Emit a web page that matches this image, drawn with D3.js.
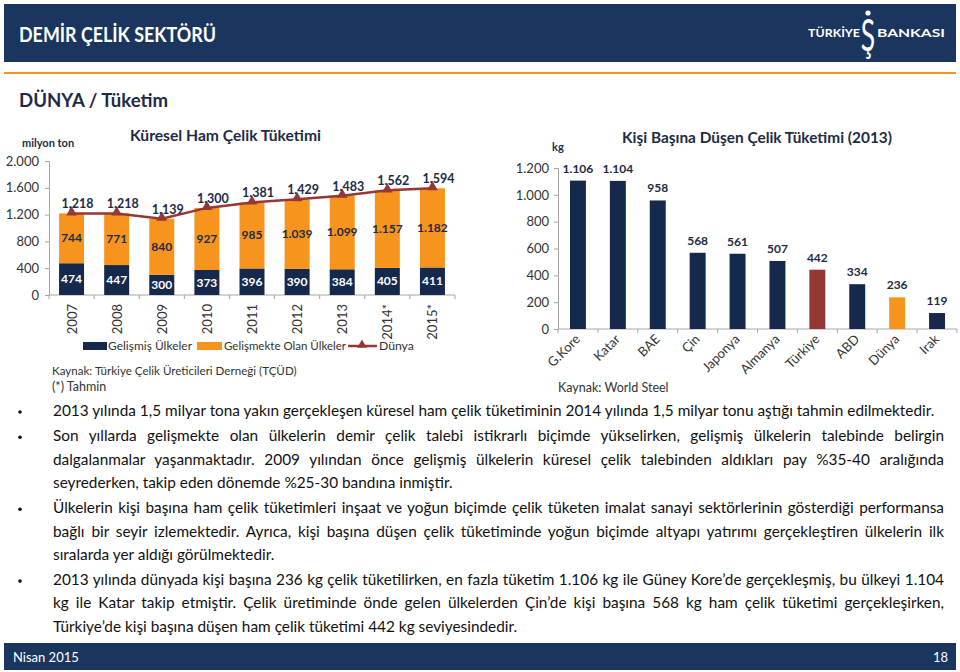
<!DOCTYPE html>
<html>
<head>
<meta charset="utf-8">
<script src="https://cdn.jsdelivr.net/npm/d3@7"></script>
<style>
  body { margin: 0; background: #fff; }
  svg { display: block; }
  text { font-family: Lato, "Open Sans", sans-serif; }
</style>
</head>
<body>
<div id="chart"></div>
<script>
// ---- data ----
const years = ["2007", "2008", "2009", "2010", "2011", "2012", "2013", "2014*", "2015*"];
const gelismis = [474, 447, 300, 373, 396, 390, 384, 405, 411];
const gelismekte = [744, 771, 840, 927, 985, 1039, 1099, 1157, 1182];
const dunya = [1218, 1218, 1139, 1300, 1381, 1429, 1483, 1562, 1594];
const dunyaLabels = ["1,218", "1.218", "1.139", "1.300", "1.381", "1.429", "1.483", "1.562", "1.594"];
const leftTicks = [0, 400, 800, 1200, 1600, 2000];
const seriesNames = ["Gelişmiş Ülkeler", "Gelişmekte Olan Ülkeler", "Dünya"];

const countries = ["G.Kore", "Katar", "BAE", "Çin", "Japonya", "Almanya", "Türkiye", "ABD", "Dünya", "Irak"];
const perCapita = [1106, 1104, 958, 568, 561, 507, 442, 334, 236, 119];
const rightTicks = [0, 200, 400, 600, 800, 1000, 1200];

const paragraphs = [
  ["2013 yılında 1,5 milyar tona yakın gerçekleşen küresel ham çelik tüketiminin 2014 yılında 1,5 milyar tonu aştığı tahmin edilmektedir."],
  ["Son yıllarda gelişmekte olan ülkelerin demir çelik talebi istikrarlı biçimde yükselirken, gelişmiş ülkelerin talebinde belirgin",
   "dalgalanmalar yaşanmaktadır. 2009 yılından önce gelişmiş ülkelerin küresel çelik talebinden aldıkları pay %35-40 aralığında",
   "seyrederken, takip eden dönemde %25-30 bandına inmiştir."],
  ["Ülkelerin kişi başına ham çelik tüketimleri inşaat ve yoğun biçimde çelik tüketen imalat sanayi sektörlerinin gösterdiği performansa",
   "bağlı bir seyir izlemektedir. Ayrıca, kişi başına düşen çelik tüketiminde yoğun biçimde altyapı yatırımı gerçekleştiren ülkelerin ilk",
   "sıralarda yer aldığı görülmektedir."],
  ["2013 yılında dünyada kişi başına 236 kg çelik tüketilirken, en fazla tüketim 1.106 kg ile Güney Kore’de gerçekleşmiş, bu ülkeyi 1.104",
   "kg ile Katar takip etmiştir. Çelik üretiminde önde gelen ülkelerden Çin’de kişi başına 568 kg ham çelik tüketimi gerçekleşirken,",
   "Türkiye’de kişi başına düşen ham çelik tüketimi 442 kg seviyesindedir."]
];

// ---- style ----
const navy = "#14294b";
const orange = "#f7941d";
const red = "#953735";
const headerBlue = "#1a365f";
const textDark = "#1e2b45";
const axisGray = "#a6a6a6";

const tr = d3.formatLocale({ decimal: ",", thousands: ".", grouping: [3], currency: ["", ""] });
const fmt = tr.format(",d");

const W = 960, H = 672;
const svg = d3.select("#chart").append("svg").attr("width", W).attr("height", H);

/* header */
svg.append("rect").attr("x", 4).attr("y", 4).attr("width", 952).attr("height", 58).attr("fill", headerBlue);
svg.append("text").attr("x", 19).attr("y", 42).attr("fill", "#fff")
  .attr("font-size", 20).attr("font-weight", 700).attr("font-family", "'Open Sans', sans-serif")
  .attr("textLength", 197).attr("lengthAdjust", "spacingAndGlyphs")
  .text("DEMİR ÇELİK SEKTÖRÜ");
svg.append("text").attr("x", 808).attr("y", 37).attr("fill", "#fff")
  .attr("font-size", 12).attr("font-weight", 700).attr("font-family", "'Open Sans', sans-serif")
  .attr("textLength", 52).attr("lengthAdjust", "spacingAndGlyphs").text("TÜRKİYE");
svg.append("text").attr("x", 877).attr("y", 37).attr("fill", "#fff")
  .attr("font-size", 12).attr("font-weight", 700).attr("font-family", "'Open Sans', sans-serif")
  .attr("textLength", 68).attr("lengthAdjust", "spacingAndGlyphs").text("BANKASI");
svg.append("text").attr("transform", "translate(868,51) scale(0.6,1)")
  .attr("text-anchor", "middle").attr("fill", "#fff")
  .attr("font-size", 44).attr("font-family", "'DejaVu Serif', serif").text("Ş");
svg.append("circle").attr("cx", 868).attr("cy", 13).attr("r", 2.6).attr("fill", "#fff");

svg.append("rect").attr("x", 4).attr("y", 72).attr("width", 952).attr("height", 2).attr("fill", orange);

svg.append("text").attr("x", 19).attr("y", 107).attr("fill", textDark)
  .attr("font-size", 18).attr("font-weight", 700).attr("font-family", "'Open Sans', sans-serif")
  .attr("textLength", 149).attr("lengthAdjust", "spacingAndGlyphs")
  .text("DÜNYA / Tüketim");

/* ---------- left chart: Küresel Ham Çelik Tüketimi ---------- */
const table = years.map((y, i) => ({ year: y, gelismis: gelismis[i], gelismekte: gelismekte[i], dunya: dunya[i], label: dunyaLabels[i] }));
const stack = d3.stack().keys(["gelismis", "gelismekte"])(table);

const xL = d3.scaleBand().domain(years).range([49, 455]).paddingInner(0.446).paddingOuter(0.223);
const yL = d3.scaleLinear().domain([0, 2000]).range([295, 161]);
const left = svg.append("g");

left.append("text").attr("x", 130).attr("y", 141).attr("fill", textDark)
  .attr("font-size", 15).attr("font-weight", 700).attr("font-family", "'Open Sans', sans-serif")
  .attr("textLength", 191).attr("lengthAdjust", "spacingAndGlyphs")
  .text("Küresel Ham Çelik Tüketimi");
left.append("text").attr("x", 22).attr("y", 147).attr("fill", textDark)
  .attr("font-size", 11).attr("font-weight", 700).text("milyon ton");

const yAxisL = left.append("g").attr("transform", "translate(49,0)")
  .call(d3.axisLeft(yL).tickValues(leftTicks).tickFormat(fmt).tickSize(4).tickPadding(6));
yAxisL.select(".domain").attr("stroke", axisGray);
yAxisL.selectAll(".tick line").attr("stroke", axisGray);
yAxisL.selectAll("text").attr("font-size", 13).attr("fill", "#333").attr("font-family", "Lato, sans-serif");

left.append("line").attr("x1", 49).attr("x2", 455).attr("y1", yL(0)).attr("y2", yL(0)).attr("stroke", axisGray);
left.selectAll(".xtick").data(years.concat([null])).join("line")
  .attr("x1", (d, i) => 49 + i * xL.step()).attr("x2", (d, i) => 49 + i * xL.step())
  .attr("y1", yL(0)).attr("y2", yL(0) + 4).attr("stroke", axisGray);
left.selectAll(".xlab").data(years).join("text")
  .attr("transform", d => `translate(${xL(d) + xL.bandwidth() / 2 + 5},304) rotate(-90)`)
  .attr("text-anchor", "end").attr("font-size", 13).attr("fill", "#333").text(d => d);

const segColor = { gelismis: navy, gelismekte: orange };
left.selectAll(".layer").data(stack).join("g")
  .attr("fill", s => segColor[s.key])
  .selectAll("rect").data(s => s).join("rect")
  .attr("x", d => xL(d.data.year)).attr("width", xL.bandwidth())
  .attr("y", d => yL(d[1])).attr("height", d => yL(d[0]) - yL(d[1]));

stack.forEach(s => {
  left.selectAll(".lab-" + s.key).data(s).join("text")
    .attr("x", d => xL(d.data.year) + xL.bandwidth() / 2)
    .attr("y", d => yL((d[0] + d[1]) / 2) + 4)
    .attr("text-anchor", "middle").attr("font-size", 12).attr("font-weight", 700)
    .attr("fill", s.key === "gelismis" ? "#fff" : textDark)
    .text(d => fmt(d[1] - d[0]));
});

const cx = d => xL(d.year) + xL.bandwidth() / 2;
left.append("path").datum(table)
  .attr("fill", "none").attr("stroke", red).attr("stroke-width", 2.5)
  .attr("d", d3.line().x(cx).y(d => yL(d.dunya)));
left.selectAll(".marker").data(table).join("path")
  .attr("transform", d => `translate(${cx(d)},${yL(d.dunya) - 1})`)
  .attr("d", d3.symbol(d3.symbolTriangle, 50)).attr("fill", red);
left.selectAll(".wlab").data(table).join("text")
  .attr("x", d => cx(d) + 6).attr("y", d => yL(d.dunya) - 5)
  .attr("text-anchor", "middle").attr("font-size", 12.5).attr("font-weight", 700)
  .attr("fill", textDark).text(d => d.label);

// legend
const lg = left.append("g").attr("font-size", 12.2).attr("fill", "#333");
lg.append("rect").attr("x", 83).attr("y", 342).attr("width", 24).attr("height", 8).attr("fill", navy);
lg.append("text").attr("x", 108).attr("y", 350).attr("textLength", 84).attr("lengthAdjust", "spacingAndGlyphs").text(seriesNames[0]);
lg.append("rect").attr("x", 197).attr("y", 342).attr("width", 25).attr("height", 8).attr("fill", orange);
lg.append("text").attr("x", 224).attr("y", 350).attr("textLength", 122).attr("lengthAdjust", "spacingAndGlyphs").text(seriesNames[1]);
lg.append("line").attr("x1", 348).attr("x2", 377).attr("y1", 346).attr("y2", 346).attr("stroke", red).attr("stroke-width", 2.5);
lg.append("path").attr("transform", "translate(362,345)").attr("d", d3.symbol(d3.symbolTriangle, 40)).attr("fill", red);
lg.append("text").attr("x", 379).attr("y", 350).text(seriesNames[2]);

left.append("text").attr("x", 52).attr("y", 375).attr("font-size", 11.6).attr("fill", "#333")
  .text("Kaynak: Türkiye Çelik Üreticileri Derneği (TÇÜD)");
left.append("text").attr("x", 52).attr("y", 391).attr("font-size", 12.5).attr("fill", "#333")
  .text("(*) Tahmin");

/* ---------- right chart: Kişi Başına Düşen Çelik Tüketimi ---------- */
const xR = d3.scaleBand().domain(countries).range([558, 957]).paddingInner(0.6).paddingOuter(0.3);
const yR = d3.scaleLinear().domain([0, 1200]).range([329, 168]);
const colR = d3.scaleOrdinal().domain(["Türkiye", "Dünya"]).range([red, orange]).unknown(navy);
const right = svg.append("g");

right.append("text").attr("x", 622).attr("y", 143).attr("fill", textDark)
  .attr("font-size", 15).attr("font-weight", 700).attr("font-family", "'Open Sans', sans-serif")
  .attr("textLength", 270).attr("lengthAdjust", "spacingAndGlyphs")
  .text("Kişi Başına Düşen Çelik Tüketimi (2013)");
right.append("text").attr("x", 552).attr("y", 151).attr("fill", textDark)
  .attr("font-size", 11).attr("font-weight", 700).text("kg");

const yAxisR = right.append("g").attr("transform", "translate(558,0)")
  .call(d3.axisLeft(yR).tickValues(rightTicks).tickFormat(fmt).tickSize(4).tickPadding(5));
yAxisR.select(".domain").attr("stroke", axisGray);
yAxisR.selectAll(".tick line").attr("stroke", axisGray);
yAxisR.selectAll("text").attr("font-size", 13).attr("fill", "#333").attr("font-family", "Lato, sans-serif");

right.append("line").attr("x1", 558).attr("x2", 957).attr("y1", yR(0)).attr("y2", yR(0)).attr("stroke", axisGray);
right.selectAll(".xtick").data(countries.concat([null])).join("line")
  .attr("x1", (d, i) => 558 + i * xR.step()).attr("x2", (d, i) => 558 + i * xR.step())
  .attr("y1", yR(0)).attr("y2", yR(0) + 4).attr("stroke", axisGray);

right.selectAll(".bar").data(countries).join("rect")
  .attr("x", d => xR(d)).attr("width", xR.bandwidth())
  .attr("y", (d, i) => yR(perCapita[i])).attr("height", (d, i) => yR(0) - yR(perCapita[i]))
  .attr("fill", d => colR(d));
right.selectAll(".vlab").data(countries).join("text")
  .attr("x", d => xR(d) + xR.bandwidth() / 2).attr("y", (d, i) => yR(perCapita[i]) - 8)
  .attr("text-anchor", "middle").attr("font-size", 12).attr("font-weight", 700)
  .attr("fill", textDark).text((d, i) => fmt(perCapita[i]));
right.selectAll(".clab").data(countries).join("text")
  .attr("transform", d => `translate(${xR(d) + xR.bandwidth() / 2 + 3},340) rotate(-45)`)
  .attr("text-anchor", "end").attr("font-size", 13).attr("fill", "#333").text(d => d);

right.append("text").attr("x", 558).attr("y", 392).attr("font-size", 12.5).attr("fill", "#333")
  .text("Kaynak: World Steel");

/* ---------- bullet text (justified via word-spacing) ---------- */
const textLeft = 53, textRight = 944, firstLineEnd = 935;
const bullets = svg.append("g").attr("fill", "#111");

// fit font size so the single first line ends where it does in the original
const probe = bullets.append("text").attr("font-size", 15).text(paragraphs[0][0]);
const fontSize = 15 * (firstLineEnd - textLeft) / probe.node().getComputedTextLength();
probe.remove();
bullets.attr("font-size", fontSize);

let yPos = 416;
paragraphs.forEach(lines => {
  bullets.append("circle").attr("cx", 20).attr("cy", yPos - 4).attr("r", 1.8).attr("fill", "#111");
  lines.forEach((line, j) => {
    const t = bullets.append("text").attr("x", textLeft).attr("y", yPos).text(line);
    if (j < lines.length - 1) {
      const gaps = line.split(" ").length - 1;
      const extra = (textRight - textLeft) - t.node().getComputedTextLength();
      t.attr("word-spacing", extra / gaps);
    }
    yPos += 23.3;
  });
  yPos += 2;
});

/* footer */
svg.append("rect").attr("x", 4).attr("y", 643).attr("width", 952).attr("height", 27).attr("fill", headerBlue);
svg.append("text").attr("x", 13).attr("y", 662).attr("fill", "#fff").attr("font-size", 13).text("Nisan 2015");
svg.append("text").attr("x", 948).attr("y", 662).attr("fill", "#fff").attr("font-size", 13)
  .attr("text-anchor", "end").text("18");
</script>
</body>
</html>
